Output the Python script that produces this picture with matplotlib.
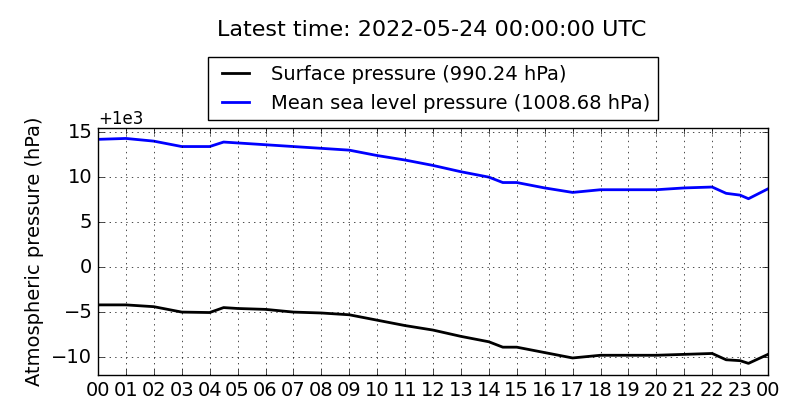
import matplotlib
matplotlib.use("Agg")
import matplotlib.pyplot as plt
import numpy as np

plt.style.use('classic')

hours = [0, 1, 2, 3, 4, 4.5, 5, 6, 7, 8, 9, 10, 11, 12, 13, 14, 14.5, 15, 16, 17,
         18, 19, 20, 21, 22, 22.5, 23, 23.3, 24]
surface = [995.8, 995.8, 995.6, 995.0, 994.95, 995.5, 995.4, 995.3, 995.0, 994.9, 994.7,
           994.1, 993.5, 993.0, 992.3, 991.7, 991.1, 991.1, 990.5, 989.9,
           990.2, 990.2, 990.2, 990.3, 990.4, 989.7, 989.6, 989.3, 990.3]
msl = [1014.2, 1014.3, 1014.0, 1013.4, 1013.4, 1013.9, 1013.8, 1013.6, 1013.4, 1013.2, 1013.0,
       1012.4, 1011.9, 1011.3, 1010.6, 1010.0, 1009.4, 1009.4, 1008.8, 1008.3,
       1008.6, 1008.6, 1008.6, 1008.8, 1008.9, 1008.2, 1008.0, 1007.6, 1008.7]
tick_labels = ["%02d" % (h % 24) for h in range(25)]

fig = plt.figure(figsize=(8, 4.2), dpi=100, facecolor='white')
ax = fig.add_axes([0.1225, 0.107, 0.8375, 0.588])
ax.plot(hours, surface, color='black', lw=2, label='Surface pressure (990.24 hPa)')
ax.plot(hours, msl, color='blue', lw=2, label='Mean sea level pressure (1008.68 hPa)')
ax.set_xlim(0, 24)
ax.set_ylim(988, 1015.45)
ax.set_xticks(range(25))
ax.set_xticklabels(tick_labels)
ax.set_yticks([990, 995, 1000, 1005, 1010, 1015])
ax.tick_params(labelsize=14)
ax.grid(True)
ax.set_ylabel('Atmospheric pressure (hPa)', fontsize=14)
ax.legend(loc='lower center', bbox_to_anchor=(0.5, 1.0), fontsize=14, handlelength=2, borderaxespad=0.4)
fig.text(0.54, 0.915, 'Latest time: 2022-05-24 00:00:00 UTC', ha='center', fontsize=16)
fig.savefig('out.png', dpi=100, facecolor='white')
